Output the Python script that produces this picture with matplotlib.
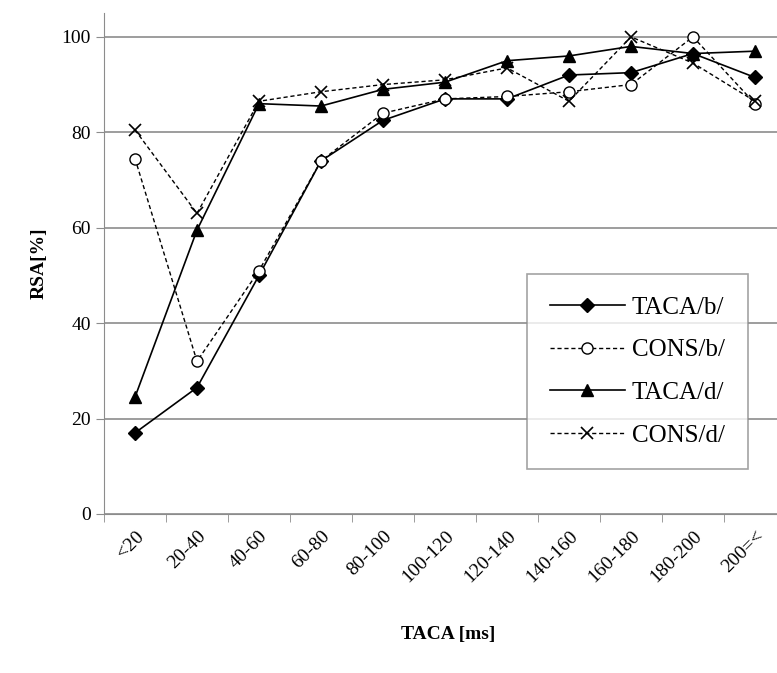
import matplotlib.pyplot as plt

# data
categories = ['<20', '20-40', '40-60', '60-80', '80-100', '100-120',
              '120-140', '140-160', '160-180', '180-200', '200=<']
taca_b = [17, 26.5, 50, 74, 82.5, 87, 87, 92, 92.5, 96.5, 91.5]
cons_b = [74.5, 32, 51, 74, 84, 87, 87.5, 88.5, 90, 100, 86]
taca_d = [24.5, 59.5, 86, 85.5, 89, 90.5, 95, 96, 98, 96.5, 97]
cons_d = [80.5, 63, 86.5, 88.5, 90, 91, 93.5, 86.5, 100, 94.5, 86.5]
yticks = [0, 20, 40, 60, 80, 100]

plt.rcParams['font.family'] = ['Liberation Serif', 'DejaVu Serif']

fig = plt.figure(figsize=(7.77, 6.73), dpi=100)
ax = fig.add_axes([104/777, 159/673, 682/777, 501/673])

x = list(range(len(categories)))
dash = (0, (3, 2))
ax.plot(x, taca_b, color='black', lw=1.2, marker='D', ms=7, mfc='black', label='TACA/b/', zorder=3)
ax.plot(x, cons_b, color='black', lw=1.0, ls=dash, marker='o', ms=8, mfc='white', label='CONS/b/', zorder=3)
ax.plot(x, taca_d, color='black', lw=1.2, marker='^', ms=9, mfc='black', label='TACA/d/', zorder=3)
ax.plot(x, cons_d, color='black', lw=1.0, ls=dash, marker='x', ms=9, mew=1.2, label='CONS/d/', zorder=3)

ax.set_xlim(-0.5, len(categories) - 0.5)
ax.set_ylim(0, 105)
ax.set_yticks(yticks)
ax.set_yticklabels([str(v) for v in yticks], fontsize=14)
ax.yaxis.grid(True, color='#8c8c8c', lw=1.2)
ax.set_axisbelow(True)

ax.set_xticks(x)
ax.set_xticklabels(categories, rotation=45, ha='right', rotation_mode='anchor',
                   fontsize=14)
ax.set_xticks([i + 0.5 for i in range(-1, len(categories))], minor=True)
ax.tick_params(axis='x', which='major', length=0, pad=10)
ax.tick_params(axis='x', which='minor', length=6, color='#8c8c8c')
ax.tick_params(axis='y', length=6, color='#8c8c8c')

for s in ['top', 'right']:
    ax.spines[s].set_visible(False)
ax.spines['left'].set_color('#8c8c8c')
ax.spines['bottom'].set_color('#8c8c8c')

ax.set_ylabel('RSA[%]', fontsize=14, fontweight='bold', labelpad=10)
fig.text(0.5 + 60/777, 1 - 635/673, 'TACA [ms]', fontsize=14, fontweight='bold',
         ha='center', va='center')

leg = ax.legend(loc='upper left', bbox_to_anchor=(527/777, 1 - 274/673),
                bbox_transform=fig.transFigure, borderaxespad=0, fontsize=18,
                frameon=True, fancybox=False, edgecolor='#8c8c8c',
                handlelength=3.0, labelspacing=0.8, borderpad=0.9,
                handletextpad=0.3)
leg.get_frame().set_linewidth(1.2)

fig.savefig('out.png', dpi=100)
